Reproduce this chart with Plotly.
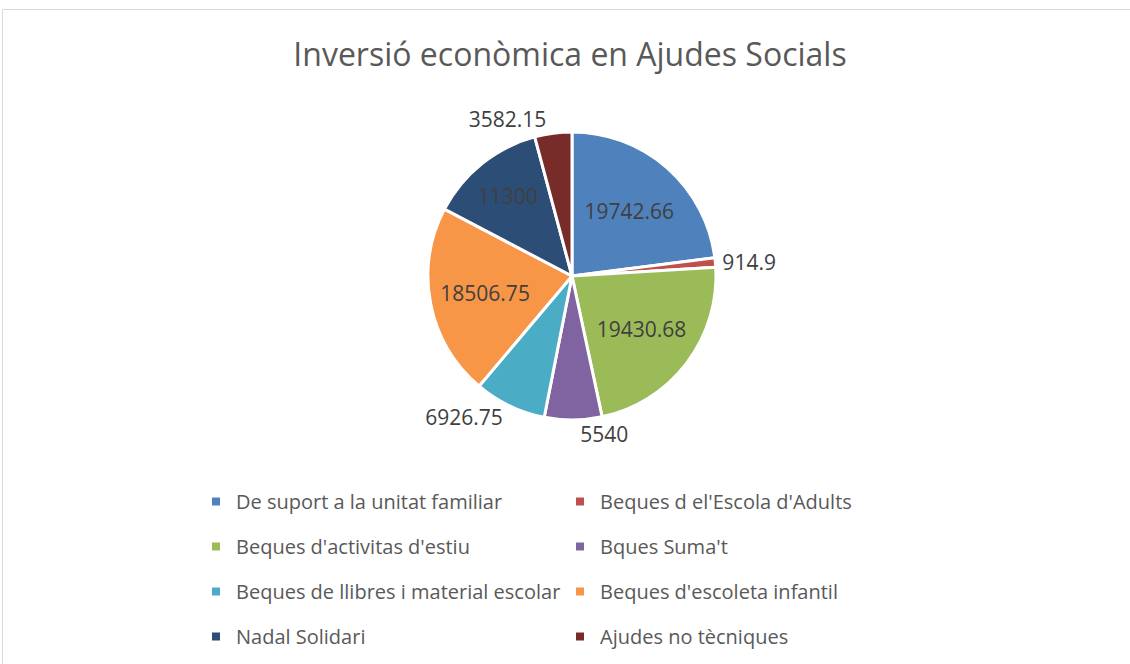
import plotly.graph_objects as go

categories = [
    "De suport a la unitat familiar",
    "Beques d el'Escola d'Adults",
    "Beques d'activitas d'estiu",
    "Bques Suma't",
    "Beques de llibres i material escolar",
    "Beques d'escoleta infantil",
    "Nadal Solidari",
    "Ajudes no tècniques",
]
values = [19742.66, 914.9, 19430.68, 5540, 6926.75, 18506.75, 11300, 3582.15]
colors = ["#4F81BD", "#C0504D", "#9BBB59", "#8064A2", "#4BACC6", "#F79646", "#2C4D75", "#772C2A"]
label_text = ["19742.66", "914.9", "19430.68", "5540", "6926.75", "18506.75", "11300", "3582.15"]
text_pos = ["inside", "outside", "inside", "outside", "outside", "inside", "inside", "outside"]

W, H = 1130, 664
FONT = "Open Sans"

fig = go.Figure()

cx, cy, r = 572, 276, 144
fig.add_trace(go.Pie(
    labels=categories,
    values=values,
    text=label_text,
    textinfo="text",
    textposition=text_pos,
    insidetextorientation="horizontal",
    sort=False,
    direction="clockwise",
    rotation=0,
    marker=dict(colors=colors, line=dict(color="white", width=3)),
    textfont=dict(family=FONT, size=21, color="#404040"),
    insidetextfont=dict(family=FONT, size=21, color="#404040"),
    outsidetextfont=dict(family=FONT, size=21, color="#404040"),
    domain=dict(x=[(cx - r) / W, (cx + r) / W], y=[1 - (cy + r) / H, 1 - (cy - r) / H]),
    showlegend=False,
    hoverinfo="label+value+percent",
))

# legend entries (two columns)
for i, (cat, col) in enumerate(zip(categories, colors)):
    fig.add_trace(go.Scatter(
        x=[None], y=[None], mode="markers", name=cat,
        marker=dict(symbol="square", size=8, color=col),
        legendgroup=cat,
        legend="legend" if i % 2 == 0 else "legend2",
    ))

legend_common = dict(
    orientation="v",
    font=dict(family=FONT, size=20, color="#595959"),
    bgcolor="rgba(0,0,0,0)",
    tracegroupgap=16,
    itemwidth=30,
    traceorder="grouped",
    yanchor="top",
    xanchor="left",
    itemclick=False,
    itemdoubleclick=False,
)

fig.update_layout(
    width=W, height=H,
    margin=dict(l=0, r=0, t=0, b=0),
    paper_bgcolor="white",
    plot_bgcolor="white",
    xaxis=dict(visible=False),
    yaxis=dict(visible=False),
    title=dict(
        text="Inversió econòmica en Ajudes Socials",
        font=dict(family=FONT, size=32, color="#595959"),
        x=570 / W, xanchor="center",
        y=1 - 55 / H, yanchor="middle",
    ),
    legend=dict(x=196 / W, y=1 - 482 / H, **legend_common),
    legend2=dict(x=560 / W, y=1 - 482 / H, **legend_common),
    shapes=[dict(
        type="rect", xref="paper", yref="paper",
        x0=2.5 / W, x1=1.2, y0=-0.2, y1=1 - 9.5 / H,
        line=dict(color="#D9D9D9", width=1), fillcolor="rgba(0,0,0,0)",
    )],
)

fig.write_html("out.html", config={"displayModeBar": False},
               post_script="document.body.style.margin='0';")
